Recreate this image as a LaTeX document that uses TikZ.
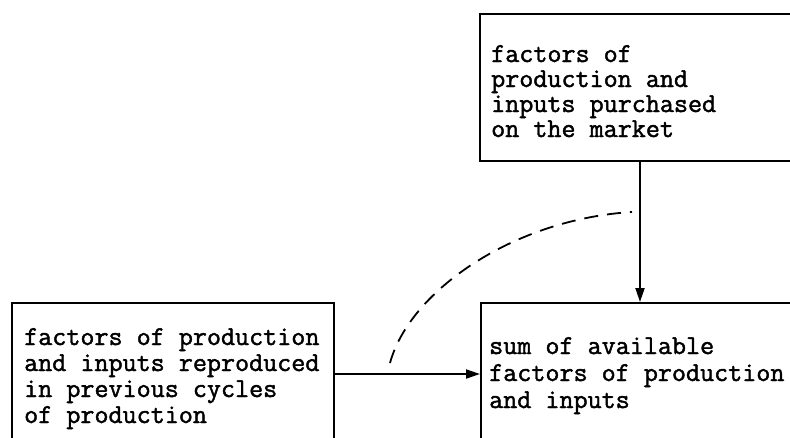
\documentclass[tikz,border=0pt]{standalone}
\usepackage{fontspec}
\newfontfamily\typewriter{Latin Modern Mono}[FakeBold=1.6]
\usetikzlibrary{arrows.meta}
\tikzset{
  box/.style={draw, line width=2pt, rectangle, inner sep=0pt, anchor=north west},
  label/.style={inner sep=0pt, anchor=base west, align=left},
  lines/.style={font=\typewriter\fontsize{27.3}{#1}\selectfont},
  flow/.style={line width=2pt, -{Triangle[length=14pt,width=9pt]}},
  link/.style={line width=1.8pt, dash pattern=on 14pt off 9pt}
}
\begin{document}
\begin{tikzpicture}[x=1pt,y=-1pt]
  \useasboundingbox (0,0) rectangle (790,437);
  \clip (0,0) rectangle (790,437);
  \fill[white] (0,0) rectangle (790,437);
  % boxes, running past the right and lower edges
  \node[box, minimum width=340pt, minimum height=147pt] (market) at (479,13) {};
  \node[box, minimum width=322pt, minimum height=160pt] (previous) at (11,302) {};
  \node[box, minimum width=340pt, minimum height=160pt] (sum) at (480,302) {};
  % texts, placed by the baseline of their last line
  \node[label, lines=25] (marketText) at (491,137) {factors of\\production and\\inputs purchased\\on the market};
  \node[label, lines=26] (previousText) at (24,423) {factors of production\\and inputs reproduced\\in previous cycles\\of production};
  \node[label, lines=27] (sumText) at (489,408) {sum of available\\factors of production\\and inputs};
  % connectors
  \draw[flow] (market.south west -| 640,0) -- (sum.north west -| 640,0);
  \draw[flow] (previous.north east |- 0,374) -- (sum.north west |- 0,374);
  \coordinate (dashStart) at (390,363);
  \coordinate (dashEnd) at (632,212);
  \draw[link] (dashStart) .. controls (410,290) and (515,219) .. (dashEnd);
\end{tikzpicture}
\end{document}
